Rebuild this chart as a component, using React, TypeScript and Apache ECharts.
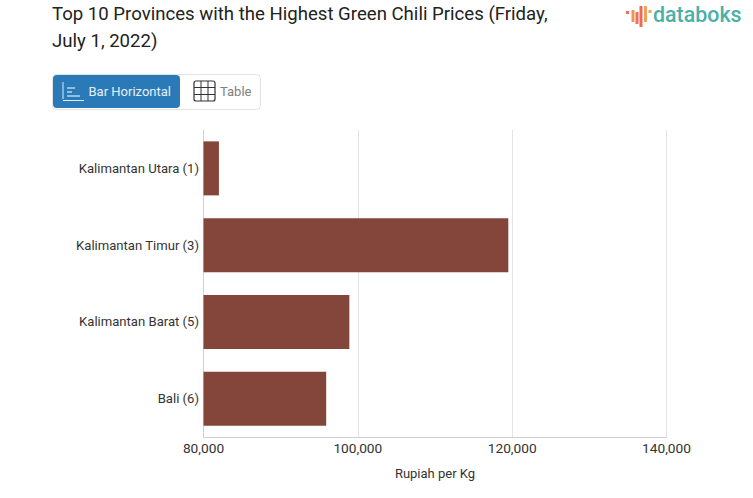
import React, { useEffect, useRef } from "react";
import * as echarts from "echarts";

const categories = ["Kalimantan Utara (1)", "Kalimantan Timur (3)", "Kalimantan Barat (5)", "Bali (6)"];
const prices = [82000, 119500, 98900, 95900];
const titleLines = "Top 10 Provinces with the Highest Green Chili Prices (Friday,\nJuly 1, 2022)";
const axisName = "Rupiah per Kg";
const tabLabels = ["Bar Horizontal", "Table"];
const brandName = "databoks";

const font = "Roboto";

export default function App() {
  const ref = useRef<HTMLDivElement>(null);
  useEffect(() => {
    const chart = echarts.init(ref.current!, undefined, { renderer: "svg" });
    const line = (x1: number, y1: number, x2: number, y2: number, stroke: string, lineWidth = 1, cap = "butt") => ({
      type: "line", shape: { x1, y1, x2, y2 }, style: { stroke, lineWidth, lineCap: cap }, silent: true,
    });
    const logoBars: [number, number, number, string][] = [
      [627.5, 11, 14, "#ef6f5e"],
      [633, 10, 22, "#f0945a"],
      [637, 12, 24, "#ef6f5e"],
      [641, 6, 27, "#ea6a5c"],
      [645.5, 6, 22, "#f0a25a"],
      [650, 10, 13, "#f0a25a"],
    ];
    chart.setOption({
      animation: false,
      backgroundColor: "#ffffff",
      textStyle: { fontFamily: font },
      grid: { left: 203.5, right: 86.5, top: 130, bottom: 61, containLabel: false },
      xAxis: {
        type: "value",
        min: 80000,
        max: 140000,
        interval: 20000,
        name: axisName,
        nameLocation: "middle",
        nameGap: 30,
        nameTextStyle: { fontFamily: font, fontSize: 13, color: "#333333" },
        axisLine: { show: true, lineStyle: { color: "#d0d0d0" } },
        axisTick: { show: false },
        axisLabel: {
          fontFamily: font, fontSize: 13.7, color: "#333333", margin: 3.5,
          formatter: (v: number) => v.toLocaleString("en-US"),
        },
        splitLine: { show: true, lineStyle: { color: "#e4e4e4", width: 1 } },
      },
      yAxis: {
        type: "category",
        inverse: true,
        data: categories,
        axisLine: { show: true, lineStyle: { color: "#d0d0d0" } },
        axisTick: { show: false },
        axisLabel: { fontFamily: font, fontSize: 13.1, color: "#333333", margin: 4.5, padding: [3, 0, 0, 0] },
      },
      series: [{
        type: "bar",
        data: prices,
        barWidth: 54,
        itemStyle: { color: "#84463b" },
        silent: true,
      }],
      graphic: [
        { type: "text", x: 52, y: 1, silent: true, style: { text: titleLines, fontFamily: font, fontSize: 18.6, lineHeight: 26.5, fill: "#222222" } },
        // tab switcher
        { type: "rect", shape: { x: 52.5, y: 74.5, width: 208, height: 35, r: 4 }, style: { fill: "#fff", stroke: "#e2e2e2", lineWidth: 1 }, silent: true },
        { type: "rect", shape: { x: 53, y: 75, width: 127, height: 33, r: 4 }, style: { fill: "#2a7ab8" }, silent: true },
        line(63, 82, 63, 99, "#dcebf6"),
        line(63, 100.5, 84, 100.5, "#dcebf6"),
        line(67, 88, 75, 88, "#ffffff"),
        line(67, 92, 72, 92, "#ffffff"),
        line(67, 96, 80, 96, "#ffffff"),
        { type: "text", x: 88.5, y: 84.5, silent: true, style: { text: tabLabels[0], fontFamily: font, fontSize: 13, fill: "#e6f0f8" } },
        { type: "rect", shape: { x: 194, y: 81, width: 21, height: 20, r: 2 }, style: { fill: "none", stroke: "#333333", lineWidth: 1.2 }, silent: true },
        line(201, 81, 201, 101, "#333333"),
        line(208, 81, 208, 101, "#333333"),
        line(194, 87.5, 215, 87.5, "#333333"),
        line(194, 94.5, 215, 94.5, "#333333"),
        { type: "text", x: 220, y: 84.5, silent: true, style: { text: tabLabels[1], fontFamily: font, fontSize: 13, fill: "#808080" } },
        // logo
        ...logoBars.map(([x, y1, y2, c]) => line(x, y1, x, y2, c, 3)),
        { type: "text", x: 653, y: 4, silent: true, style: { text: brandName, fontFamily: font, fontSize: 21.4, fontWeight: 500, fill: "#4bb0a6" } },
      ],
    });
    return () => chart.dispose();
  }, []);
  return <div ref={ref} style={{ position: "absolute", left: 0, top: 0, width: 753, height: 498 }} />;
}
